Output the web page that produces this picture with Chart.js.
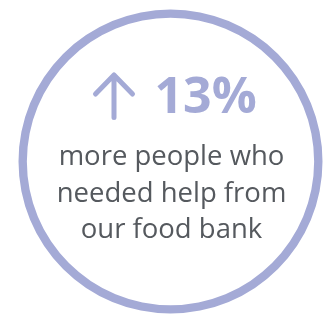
<!DOCTYPE html>
<html>
<head>
<meta charset="utf-8">
<script src="https://cdn.jsdelivr.net/npm/chart.js@4.4.0/dist/chart.umd.min.js"></script>
<style>
  html, body { margin: 0; padding: 0; background: #ffffff; }
  #wrap { width: 328px; height: 314px; }
</style>
</head>
<body>
<div id="wrap"><canvas id="ring" width="328" height="314"></canvas></div>
<script>
// data
const ringLabels = ['more people'];
const ringValues = [100];
const changePercent = 13;
const captionLines = ['more people who', 'needed help from', 'our food bank'];

const ringColor = '#a4aad6';
const textColor = '#55595e';

// draws the arrow, the percentage and the caption in the middle
const centerText = {
    id: 'centerText',
    afterDraw(chart) {
        const ctx = chart.ctx;
        const meta = chart.getDatasetMeta(0).data[0];
        const cx = meta.x;
        const cy = meta.y;
        ctx.save();

        // arrow
        ctx.strokeStyle = ringColor;
        ctx.lineWidth = 5;
        ctx.lineCap = 'round';
        ctx.lineJoin = 'round';
        ctx.beginPath();
        ctx.moveTo(cx - 56.5, cy - 44);
        ctx.lineTo(cx - 56.5, cy - 86.5);
        ctx.moveTo(cx - 75, cy - 67.5);
        ctx.lineTo(cx - 56.5, cy - 86.5);
        ctx.lineTo(cx - 38, cy - 67.5);
        ctx.stroke();

        // percentage
        ctx.fillStyle = ringColor;
        ctx.font = 'bold 50px "Open Sans", sans-serif';
        ctx.textAlign = 'left';
        ctx.textBaseline = 'alphabetic';
        ctx.fillText(changePercent + '%', cx - 16, cy - 48.5);

        // caption
        ctx.fillStyle = textColor;
        ctx.font = '27.5px "Open Sans", sans-serif';
        ctx.textAlign = 'center';
        captionLines.forEach((line, i) => {
            ctx.fillText(line, cx + 1, cy + 3.5 + i * 36.5);
        });
        ctx.restore();
    }
};

new Chart(document.getElementById('ring'), {
    type: 'doughnut',
    data: {
        labels: ringLabels,
        datasets: [{
            data: ringValues,
            backgroundColor: [ringColor],
            borderWidth: 0,
            hoverOffset: 0
        }]
    },
    options: {
        responsive: false,
        animation: false,
        radius: 152,
        cutout: '94.5%',
        layout: { padding: { left: 18.5, right: 5.5, top: 9.5, bottom: 0.5 } },
        plugins: {
            legend: { display: false },
            tooltip: { enabled: false }
        }
    },
    plugins: [centerText]
});
</script>
</body>
</html>
